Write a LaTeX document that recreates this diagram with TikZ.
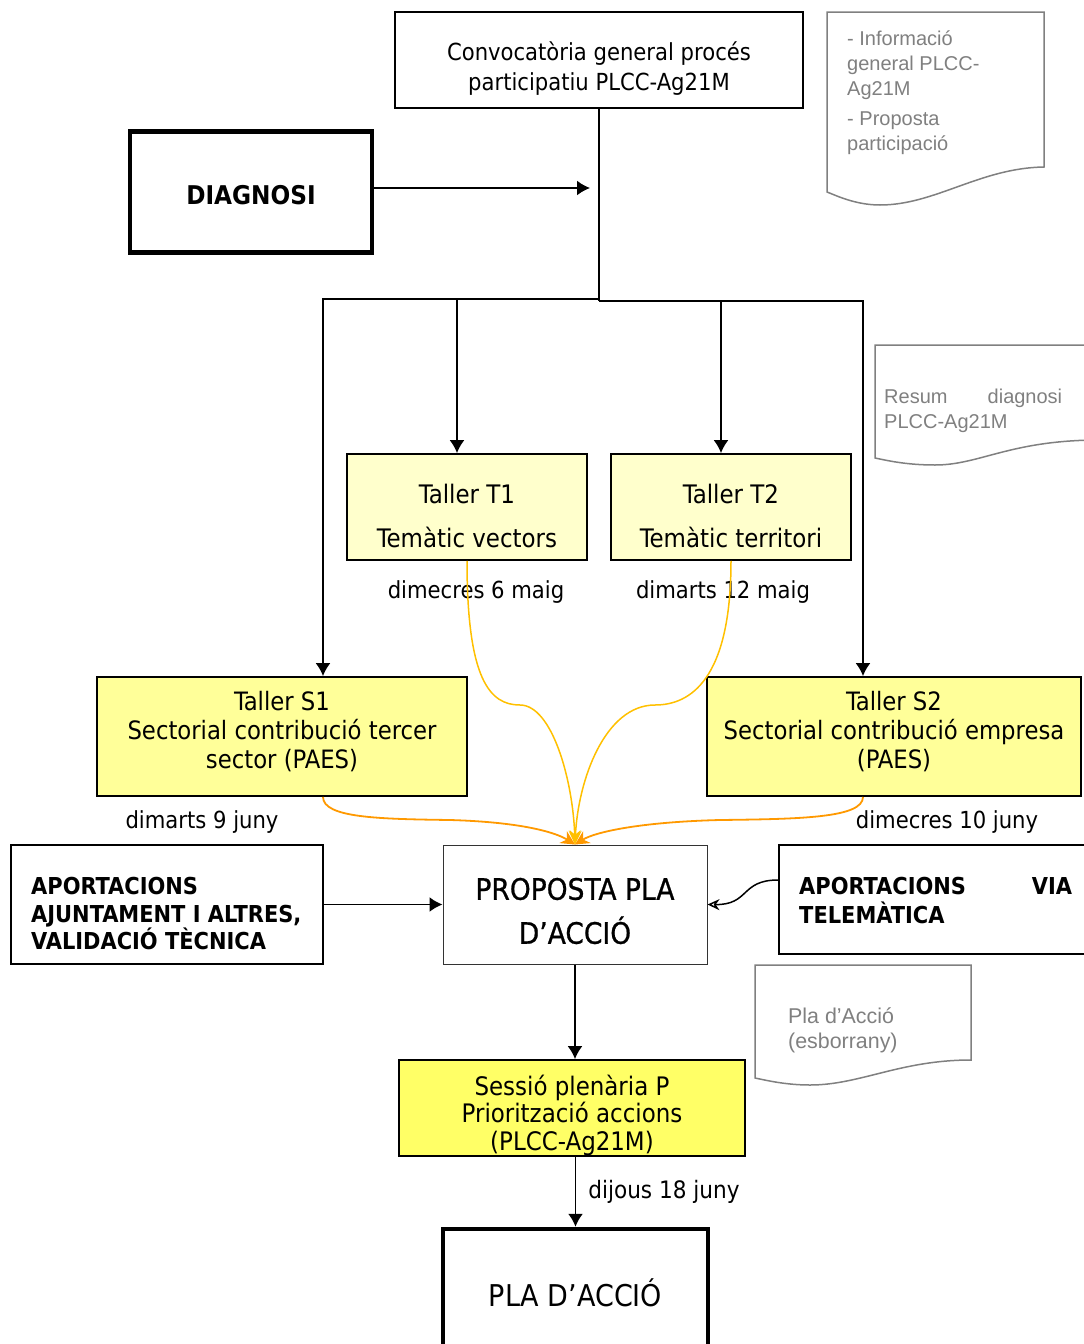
\documentclass[tikz,border=0pt]{standalone}
\usepackage{fontspec}
\setmainfont{DejaVu Sans Condensed}
\newfontfamily\docf{Liberation Sans}
\newfontfamily\semib[FakeBold=0.8]{DejaVu Sans Condensed}
\usetikzlibrary{arrows.meta}
\definecolor{docgray}{RGB}{128,128,128}
\definecolor{paley}{RGB}{255,255,204}
\definecolor{midy}{RGB}{255,255,153}
\definecolor{stry}{RGB}{255,255,102}
\definecolor{goldc}{RGB}{255,192,0}
\definecolor{orngc}{RGB}{255,153,0}
\begin{document}
\begin{tikzpicture}[x=1pt,y=-1pt,
  box/.style={draw, line width=1.8pt, inner sep=0pt},
  thickbox/.style={draw, line width=4.5pt, inner sep=0pt},
  lbl/.style={inner sep=0pt, align=center},
  arr/.style={line width=1.8pt, -{Latex[length=13pt,width=15pt]}},
  plain/.style={line width=1.8pt},
  goldarr/.style={goldc, line width=1.5pt, -{Stealth[length=14pt,width=12pt]}},
  orngarr/.style={orngc, line width=1.8pt, -{Stealth[length=14pt,width=14pt]}},
  docshape/.style={draw=docgray, line width=1.5pt, fill=white},
  doctxt/.style={text=docgray, inner sep=0pt, anchor=north west, align=left, font=\docf\fontsize{20}{25}\selectfont},
  date/.style={inner sep=0pt, font=\fontsize{23.5}{26}\selectfont}
]
\useasboundingbox (0,0) rectangle (1084,1344);
\clip (0,0) rectangle (1084,1344);

% documents
\draw[docshape] (827,12) -- (1044,12) -- (1044,167) .. controls (980,168) and (935,205) .. (880,205) .. controls (855,205) and (835,195) .. (827,192) -- cycle;
\node[doctxt] (doc1) at (847,31) {- Informació\\general PLCC-\\Ag21M\\[5pt]- Proposta\\participació};

\draw[docshape] (875,345) -- (1100,345) -- (1100,440) .. controls (1010,440) and (980,465) .. (935,465) .. controls (905,465) and (885,460) .. (875,458) -- cycle;
\node[doctxt, text width=178pt] (doc2) at (884,389) {Resum\hfill diagnosi\\PLCC-Ag21M};

\draw[docshape] (755,965) -- (971,965) -- (971,1060) .. controls (900,1060) and (860,1085) .. (810,1085) .. controls (785,1085) and (765,1080) .. (755,1078) -- cycle;
\node[doctxt, font=\docf\fontsize{21.4}{24.5}\selectfont] (doc3) at (788,1008) {Pla d’Acció\\(esborrany)};

% main boxes
\node[box, minimum width=408pt, minimum height=96pt] (conv) at (599,60) {};
\node[lbl, font=\fontsize{23.5}{30}\selectfont] (convt) at (599,69) {Convocatòria general procés\\participatiu PLCC-Ag21M};

\node[thickbox, minimum width=242pt, minimum height=121pt] (diag) at (251,192) {};
\node[lbl, font=\bfseries\fontsize{25.8}{30}\selectfont] (diagt) at (251,195) {DIAGNOSI};

\node[box, fill=paley, minimum width=240pt, minimum height=106pt] (t1) at (467,507) {};
\node[lbl, font=\fontsize{25.5}{44}\selectfont] (t1t) at (467,516) {Taller T1\\Temàtic vectors};
\node[box, fill=paley, minimum width=240pt, minimum height=106pt] (t2) at (731,507) {};
\node[lbl, font=\fontsize{25.5}{44}\selectfont] (t2t) at (731,516) {Taller T2\\Temàtic territori};

\node[box, fill=midy, minimum width=370pt, minimum height=119pt] (s1) at (282,736.5) {};
\node[lbl, font=\fontsize{25.3}{29}\selectfont] (s1t) at (282,732) {Taller S1\\Sectorial contribució tercer\\sector (PAES)};
\node[box, fill=midy, minimum width=374pt, minimum height=119pt] (s2) at (894,736.5) {};
\node[lbl, font=\fontsize{25.3}{29}\selectfont] (s2t) at (894,732) {Taller S2\\Sectorial contribució empresa\\(PAES)};

\node[date] (d1) at (476,592) {dimecres 6 maig};
\node[date] (d2) at (723,592) {dimarts 12 maig};
\node[date] (d3) at (202,822) {dimarts 9 juny};
\node[date] (d4) at (947,822) {dimecres 10 juny};

\node[draw=black!80, line width=1pt, inner sep=0pt, minimum width=264pt, minimum height=119pt] (prop) at (575,904.5) {};
\node[lbl, font=\semib\fontsize{29.5}{44}\selectfont] (propt) at (575,911) {PROPOSTA PLA\\D’ACCIÓ};

\node[box, minimum width=312pt, minimum height=119pt] (apl) at (167,904.5) {};
\node[lbl, anchor=west, align=left, font=\bfseries\fontsize{23.3}{27.5}\selectfont] (aplt) at (31,914) {APORTACIONS\\AJUNTAMENT I ALTRES,\\VALIDACIÓ TÈCNICA};
\node[box, minimum width=321pt, minimum height=109pt] (apr) at (939.5,899.5) {};
\node[lbl, anchor=west, text width=273pt, align=left, font=\bfseries\fontsize{23.3}{29}\selectfont] (aprt) at (799,901) {APORTACIONS\hfill VIA\\TELEMÀTICA};

\node[box, fill=stry, minimum width=346pt, minimum height=96pt] (sess) at (572,1108) {};
\node[lbl, font=\fontsize{25.5}{27.5}\selectfont] (sesst) at (572,1115) {Sessió plenària P\\Priorització accions\\(PLCC-Ag21M)};

\node[thickbox, minimum width=265pt, minimum height=126pt] (pla) at (575.5,1292) {};
\node[lbl, font=\fontsize{30}{32}\selectfont] (plat) at (575.5,1293) {PLA D’ACCIÓ};

% connectors
\coordinate (diagend) at (590,188);
\draw[arr] (diag.east |- diagend) -- (diagend);

\coordinate (j) at (599,299);
\coordinate (jL) at (323,299);
\coordinate (j1) at (457,299);
\coordinate (jR) at (863,301);
\coordinate (j2) at (721,301);
\coordinate (jm) at (599,301);
\draw[plain] (conv.south) -- (jm);
\draw[arr] (j) -- (jL) -- (jL |- s1.north);
\draw[arr] (j1) -- (j1 |- t1.north);
\draw[arr] (jm) -- (jR) -- (jR |- s2.north);
\draw[arr] (j2) -- (j2 |- t2.north);

\draw[goldarr] (t1.south) .. controls (467,680) and (490,705) .. (520,705) .. controls (552,705) and (573,780) .. (prop.north);
\draw[goldarr] (t2.south) .. controls (731,680) and (690,705) .. (655,705) .. controls (605,705) and (578,780) .. (prop.north);
\draw[orngarr] (s1.south -| jL) .. controls (323,818) and (380,819) .. (450,820) .. controls (520,822) and (555,832) .. (prop.north);
\draw[orngarr] (s2.south -| jR) .. controls (863,818) and (800,819) .. (720,820) .. controls (640,822) and (595,832) .. (prop.north);

\draw[arr] (apl.east |- prop.west) -- (prop.west);
\draw[line width=1.5pt, -{Stealth[length=12pt,width=11pt,open]}] (apr.west |- 0,880) .. controls (740,880) and (750,905) .. (prop.east);
\draw[arr] (prop.south) -- (prop.south |- sess.north);
\draw[arr] (pla.north |- sess.south) -- node[right=12pt, date, font=\fontsize{24}{26}\selectfont] (d5) {dijous 18 juny} (pla.north);
\end{tikzpicture}
\end{document}
